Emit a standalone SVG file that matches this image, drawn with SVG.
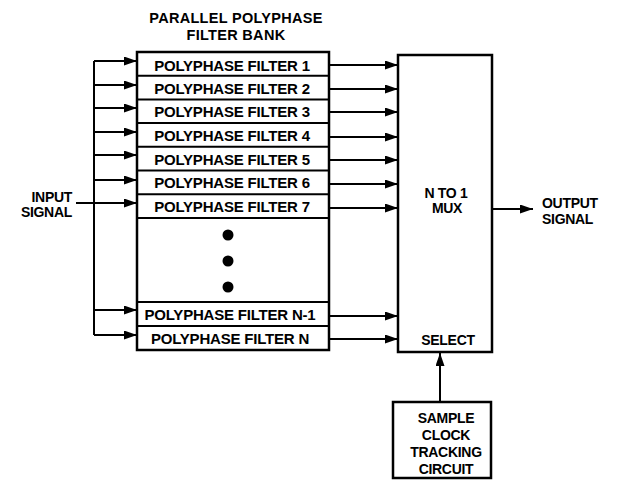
<svg xmlns="http://www.w3.org/2000/svg" width="617" height="480" viewBox="0 0 617 480">
<defs>
<marker id="ah" markerWidth="13" markerHeight="9" refX="13" refY="4.5" orient="auto" markerUnits="userSpaceOnUse">
<path d="M0,0 L13,4.5 L0,9 Z" fill="#000"/>
</marker>
<style>
text{font-family:"Liberation Sans",Arial,sans-serif;font-weight:bold;fill:#000}
.f{font-size:15px;text-anchor:middle;letter-spacing:-0.2px}
.t{font-size:14.5px;text-anchor:middle;letter-spacing:0.3px}
.l{font-size:14px;letter-spacing:-0.3px}
.c{text-anchor:middle}
.box{fill:#fff;stroke:#000;stroke-width:2.5}
.row{fill:none;stroke:#000;stroke-width:2}
.w{fill:none;stroke:#000;stroke-width:2}
.a{fill:none;stroke:#000;stroke-width:2;marker-end:url(#ah)}
</style>
</defs>
<rect width="617" height="480" fill="#fff"/>
<g id="title">
<text class="t" x="236" y="23">PARALLEL POLYPHASE</text>
<text class="t" x="236" y="40">FILTER BANK</text>
</g>
<g id="filter-bank">
<rect class="box" x="137" y="52" width="192" height="298"/>
<line class="row" x1="137" y1="75.7" x2="329" y2="75.7"/>
<line class="row" x1="137" y1="99.4" x2="329" y2="99.4"/>
<line class="row" x1="137" y1="123.1" x2="329" y2="123.1"/>
<line class="row" x1="137" y1="146.8" x2="329" y2="146.8"/>
<line class="row" x1="137" y1="170.5" x2="329" y2="170.5"/>
<line class="row" x1="137" y1="194.2" x2="329" y2="194.2"/>
<line class="row" x1="137" y1="218" x2="329" y2="218"/>
<line class="row" x1="137" y1="302" x2="329" y2="302"/>
<line class="row" x1="137" y1="326" x2="329" y2="326"/>
<g id="filter-1"><text class="f" x="232" y="70.5">POLYPHASE FILTER 1</text></g>
<g id="filter-2"><text class="f" x="232" y="93.5">POLYPHASE FILTER 2</text></g>
<g id="filter-3"><text class="f" x="232" y="117">POLYPHASE FILTER 3</text></g>
<g id="filter-4"><text class="f" x="232" y="141">POLYPHASE FILTER 4</text></g>
<g id="filter-5"><text class="f" x="232" y="164.5">POLYPHASE FILTER 5</text></g>
<g id="filter-6"><text class="f" x="232" y="188">POLYPHASE FILTER 6</text></g>
<g id="filter-7"><text class="f" x="232" y="212">POLYPHASE FILTER 7</text></g>
<g id="ellipsis">
<circle cx="228" cy="235" r="5.5" fill="#000"/>
<circle cx="228" cy="261" r="5.5" fill="#000"/>
<circle cx="228" cy="287" r="5.5" fill="#000"/>
</g>
<g id="filter-n-1"><text class="f" x="230" y="320">POLYPHASE FILTER N-1</text></g>
<g id="filter-n"><text class="f" x="230" y="344">POLYPHASE FILTER N</text></g>
</g>
<g id="mux">
<rect class="box" x="398" y="55" width="94" height="297"/>
<text class="l c" x="446" y="198">N TO 1</text>
<text class="l c" x="447" y="213">MUX</text>
<text class="l c" x="448" y="345">SELECT</text>
</g>
<g id="sample-clock">
<rect class="box" x="393" y="402" width="98" height="76"/>
<text class="l c" x="446" y="423">SAMPLE</text>
<text class="l c" x="446" y="440">CLOCK</text>
<text class="l c" x="446" y="457">TRACKING</text>
<text class="l c" x="446" y="474">CIRCUIT</text>
</g>
<g id="input-label">
<text class="l" x="72" y="202" text-anchor="end">INPUT</text>
<text class="l" x="72" y="217" text-anchor="end">SIGNAL</text>
</g>
<g id="output-label">
<text class="l" x="542" y="208">OUTPUT</text>
<text class="l" x="542" y="224">SIGNAL</text>
</g>
<g id="connectors">
<line class="w" x1="94" y1="61" x2="94" y2="335"/>
<line class="a" x1="76" y1="203" x2="137" y2="203"/>
<line class="a" x1="94" y1="61" x2="137" y2="61"/>
<line class="a" x1="94" y1="85" x2="137" y2="85"/>
<line class="a" x1="94" y1="108" x2="137" y2="108"/>
<line class="a" x1="94" y1="132" x2="137" y2="132"/>
<line class="a" x1="94" y1="155" x2="137" y2="155"/>
<line class="a" x1="94" y1="180" x2="137" y2="180"/>
<line class="a" x1="94" y1="310" x2="137" y2="310"/>
<line class="a" x1="94" y1="335" x2="137" y2="335"/>
<line class="a" x1="329" y1="65" x2="398" y2="65"/>
<line class="a" x1="329" y1="89" x2="398" y2="89"/>
<line class="a" x1="329" y1="112" x2="398" y2="112"/>
<line class="a" x1="329" y1="137" x2="398" y2="137"/>
<line class="a" x1="329" y1="160" x2="398" y2="160"/>
<line class="a" x1="329" y1="184" x2="398" y2="184"/>
<line class="a" x1="329" y1="208" x2="398" y2="208"/>
<line class="a" x1="329" y1="316" x2="398" y2="316"/>
<line class="a" x1="329" y1="339" x2="398" y2="339"/>
<line class="a" x1="492" y1="209" x2="533" y2="209"/>
<line class="a" x1="440" y1="402" x2="440" y2="353"/>
</g>
</svg>
